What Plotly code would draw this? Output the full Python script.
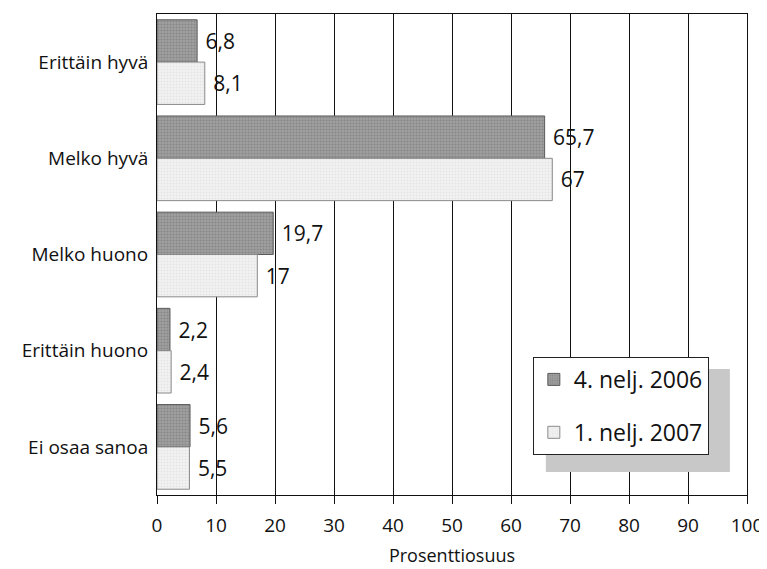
import plotly.graph_objects as go

categories = ["Erittäin hyvä", "Melko hyvä", "Melko huono", "Erittäin huono", "Ei osaa sanoa"]
q4_2006 = [6.8, 65.7, 19.7, 2.2, 5.6]
q1_2007 = [8.1, 67, 17, 2.4, 5.5]
series_names = ["4. nelj. 2006", "1. nelj. 2007"]

fnt = "Open Sans"

fig = go.Figure()
fig.add_trace(go.Bar(
    y=categories, x=q4_2006, name=series_names[0], orientation="h", legendgroup="a",
    marker=dict(color="#8f8f8f", line=dict(color="#5a5a5a", width=1),
                pattern=dict(shape=".", fgcolor="#6e6e6e", bgcolor="#a0a0a0", size=3, solidity=0.4)),
    texttemplate=" %{x}", textposition="outside", cliponaxis=False,
    textfont=dict(size=21, color="#111", family=fnt),
))
fig.add_trace(go.Bar(
    y=categories, x=q1_2007, name=series_names[1], orientation="h", legendgroup="b",
    marker=dict(color="#ececec", line=dict(color="#8a8a8a", width=1),
                pattern=dict(shape=".", fgcolor="#d6d6d6", bgcolor="#f2f2f2", size=3, solidity=0.3)),
    texttemplate=" %{x}", textposition="outside", cliponaxis=False,
    textfont=dict(size=21, color="#111", family=fnt),
))

# legend shadow
fig.add_shape(type="rect", xref="paper", yref="paper",
              x0=0.659, x1=0.971, y0=0.048, y1=0.262,
              fillcolor="#c8c8c8", line=dict(width=0), layer="above")

# page body adds an 8px offset, so margins are shifted to compensate
fig.update_layout(
    width=767, height=569,
    margin=dict(l=149, r=28, t=6, b=82, autoexpand=False),
    paper_bgcolor="white", plot_bgcolor="white",
    separators=", ",
    barmode="group", bargap=0.12, bargroupgap=0.0,
    font=dict(family=fnt, color="#111"),
    legend=dict(x=0.637, y=0.287, xanchor="left", yanchor="top",
                bgcolor="white", bordercolor="#222", borderwidth=1,
                font=dict(size=23, family=fnt), traceorder="grouped",
                itemwidth=30, tracegroupgap=20),
    xaxis=dict(range=[0, 100], dtick=10, showgrid=True, gridcolor="#111", gridwidth=1,
               showline=True, linecolor="#111", linewidth=1, mirror=True,
               ticks="outside", ticklen=8, tickcolor="#111", automargin=False,
               ticklabelstandoff=5,
               tickfont=dict(size=19, family=fnt), zeroline=False,
               title=dict(text="Prosenttiosuus", font=dict(size=18, family=fnt), standoff=12)),
    yaxis=dict(autorange="reversed", showline=True, linecolor="#111", linewidth=1, mirror=True,
               ticks="", automargin=False, tickfont=dict(size=19, family=fnt),
               ticklabelstandoff=4),
)

fig.write_html("out.html")
